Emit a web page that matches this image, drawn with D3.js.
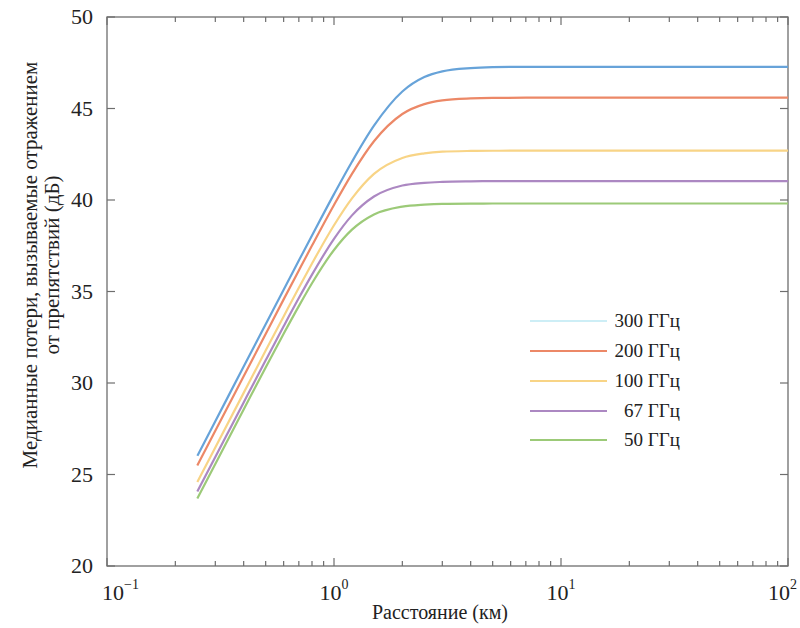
<!DOCTYPE html>
<html><head><meta charset="utf-8">
<script src="https://cdn.jsdelivr.net/npm/d3@7"></script>
</head><body style="margin:0">
<svg id="c" width="800" height="628"></svg>
<script>
const distances = [0.25,0.3,0.4,0.5,0.6,0.7,0.8,1.0,1.2,1.5,2,2.5,3,4,5,7,10,20,50,100];
const series = ["300 ГГц","200 ГГц","100 ГГц","67 ГГц","50 ГГц"];
const loss300 = [26.02,27.91,30.90,33.21,35.10,36.69,38.06,40.32,42.09,44.06,45.93,46.72,47.03,47.21,47.26,47.28,47.28,47.28,47.28,47.28];
const loss200 = [25.49,27.39,30.37,32.68,34.57,36.15,37.51,39.73,41.43,43.21,44.70,45.24,45.44,45.55,45.58,45.59,45.59,45.59,45.59,45.59];
const loss100 = [24.59,26.48,29.46,31.77,33.64,35.21,36.53,38.62,40.09,41.43,42.30,42.55,42.64,42.68,42.69,42.70,42.70,42.70,42.70,42.70];
const loss67  = [24.07,25.96,28.94,31.24,33.10,34.64,35.92,37.88,39.16,40.19,40.79,40.94,40.99,41.02,41.03,41.03,41.03,41.03,41.03,41.03];
const loss50  = [23.69,25.58,28.55,30.85,32.69,34.20,35.45,37.27,38.38,39.21,39.64,39.75,39.79,39.80,39.81,39.81,39.81,39.81,39.81,39.81];
const yTicks = [20,25,30,35,40,45,50];
const xTicks = [0.1,1,10,100];
const xTickExp = ["−1","0","1","2"];
const colors = ["#67a3d9","#ec8867","#f8d486","#ac88c2","#9cca78"];
const legendColors = ["#cdeef6","#ec8867","#f8d486","#ac88c2","#9cca78"];
const allLoss = [loss300,loss200,loss100,loss67,loss50];

const svg = d3.select("#c");
const L=107, R=788, T=17, B=566;
const x = d3.scaleLog().domain([0.1,100]).range([L,R]);
const y = d3.scaleLinear().domain([20,50]).range([B,T]);

function txt(sel){ return sel.style("font-family",'"Liberation Serif"').attr("fill","#222"); }

svg.append("rect").attr("x",L).attr("y",T).attr("width",R-L).attr("height",B-T)
  .attr("fill","none").attr("stroke","#6e6e6e").attr("stroke-width",1.3);

const minor = [];
for (let e=-1;e<2;e++) for (let m=2;m<=9;m++) minor.push(m*Math.pow(10,e));
const tk = svg.append("g").attr("stroke","#6e6e6e").attr("stroke-width",1.2);
xTicks.forEach(v=>{
  tk.append("line").attr("x1",x(v)).attr("x2",x(v)).attr("y1",B).attr("y2",B-8);
  tk.append("line").attr("x1",x(v)).attr("x2",x(v)).attr("y1",T).attr("y2",T+8);
});
minor.forEach(v=>{
  tk.append("line").attr("x1",x(v)).attr("x2",x(v)).attr("y1",B).attr("y2",B-5);
  tk.append("line").attr("x1",x(v)).attr("x2",x(v)).attr("y1",T).attr("y2",T+5);
});
yTicks.forEach(v=>{
  tk.append("line").attr("x1",L).attr("x2",L+8).attr("y1",y(v)).attr("y2",y(v));
  tk.append("line").attr("x1",R).attr("x2",R-8).attr("y1",y(v)).attr("y2",y(v));
});

yTicks.forEach(v=>{
  txt(svg.append("text")).attr("x",93).attr("y",y(v)+7).attr("text-anchor","end")
    .attr("font-size",22).text(v);
});

xTicks.forEach((v,i)=>{
  const t = txt(svg.append("text")).attr("x",x(v)).attr("y",600).attr("text-anchor","middle")
    .attr("font-size",22);
  t.append("tspan").text("10");
  t.append("tspan").attr("dy",-11).attr("font-size",14).text(xTickExp[i]);
  const bb = t.node().getBBox();
  if (bb.x < L - 5) t.attr("x", x(v) + (L - 5 - bb.x));
  if (bb.x + bb.width > 797) t.attr("x", x(v) - (bb.x + bb.width - 797));
});

txt(svg.append("text")).attr("x",440).attr("y",619).attr("text-anchor","middle")
  .attr("font-size",20).text("Расстояние (км)");
const yt = txt(svg.append("text")).attr("transform","translate(37,265) rotate(-90)")
  .attr("text-anchor","middle").attr("font-size",21);
yt.append("tspan").attr("x",0).attr("dy",0).text("Медианные потери, вызываемые отражением");
yt.append("tspan").attr("x",0).attr("dy",22).text("от препятствий (дБ)");

const line = d3.line().x(d=>x(d[0])).y(d=>y(d[1])).curve(d3.curveMonotoneX);
allLoss.slice().reverse().forEach((arr,ri)=>{
  const i = allLoss.length-1-ri;
  svg.append("path").datum(distances.map((d,k)=>[d,arr[k]]))
    .attr("d",line).attr("fill","none").attr("stroke",colors[i]).attr("stroke-width",2.2);
});

const legY = [321,351,381,411,440];
series.forEach((s,i)=>{
  svg.append("line").attr("x1",530).attr("x2",607).attr("y1",legY[i]).attr("y2",legY[i])
    .attr("stroke",legendColors[i]).attr("stroke-width",2);
  txt(svg.append("text")).attr("x",680).attr("y",legY[i]+6).attr("text-anchor","end")
    .attr("font-size",19).text(s);
});
</script></body></html>
